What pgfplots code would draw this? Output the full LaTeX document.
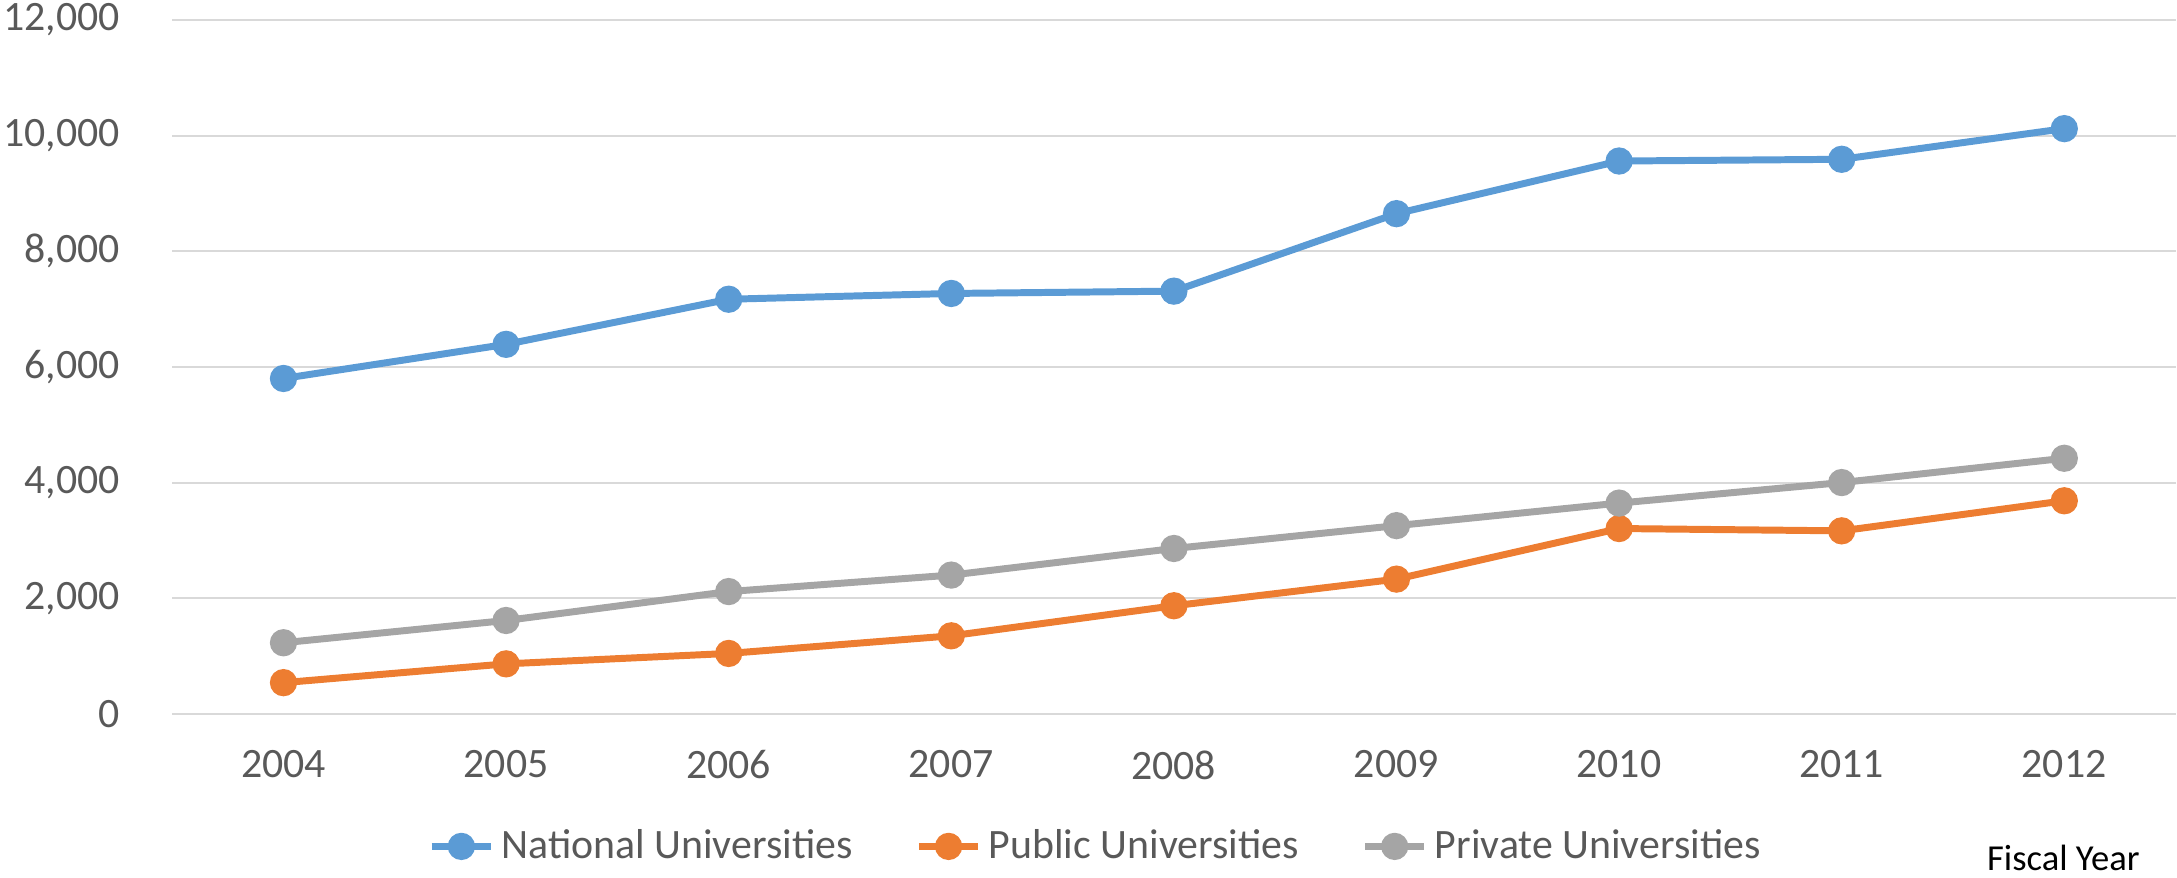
\documentclass[border=0pt]{standalone}
\usepackage{fontspec}
\setmainfont{Carlito}
\usepackage{pgfplots}
\pgfplotsset{compat=1.18}

\definecolor{natblue}{HTML}{5B9BD5}
\definecolor{puborange}{HTML}{ED7D31}
\definecolor{privgray}{HTML}{A5A5A5}
\definecolor{ticktext}{HTML}{595959}
\definecolor{gridc}{HTML}{D9D9D9}

\begin{document}
\begin{tikzpicture}
\begin{axis}[
  width=574.8pt, height=199.1pt,
  scale only axis,
  clip=false,
  xmin=2003.5, xmax=2012.5,
  ymin=0, ymax=12000,
  xtick={2004,...,2012},
  ytick={0,2000,...,12000},
  scaled ticks=false,
  axis line style={draw=none},
  major tick length=0pt,
  ymajorgrids,
  grid style={gridc, line width=0.6pt},
  tick label style={font=\fontsize{12}{14}\selectfont, text=ticktext},
  /pgf/number format/assume math mode=true,
  xticklabel style={/pgf/number format/1000 sep={}, yshift=-7pt},
  yticklabel style={/pgf/number format/fixed, /pgf/number format/1000 sep={,},
    inner sep=1pt, xshift=-13.8pt},
  legend columns=3,
  legend style={at={(0.462,-0.191)}, anchor=center, draw=none, fill=none,
    font=\fontsize{12}{14}\selectfont, text=ticktext,
    /tikz/every even column/.append style={column sep=16pt}},
  every axis plot/.append style={line width=2pt, mark=*, mark size=2.9pt},
]
\addplot[natblue, mark options={fill=natblue, draw=natblue}] coordinates {
  (2004,5800) (2005,6390) (2006,7170) (2007,7270) (2008,7310)
  (2009,8650) (2010,9560) (2011,9590) (2012,10120)};
\addlegendentry{National Universities}
\addplot[puborange, mark options={fill=puborange, draw=puborange}] coordinates {
  (2004,540) (2005,865) (2006,1045) (2007,1350) (2008,1870)
  (2009,2330) (2010,3205) (2011,3165) (2012,3685)};
\addlegendentry{Public Universities}
\addplot[privgray, mark options={fill=privgray, draw=privgray}] coordinates {
  (2004,1230) (2005,1615) (2006,2115) (2007,2400) (2008,2860)
  (2009,3255) (2010,3645) (2011,4000) (2012,4420)};
\addlegendentry{Private Universities}
\node[font=\fontsize{10.5}{12}\selectfont, text=black, inner sep=0pt, anchor=south]
  at (rel axis cs:0.944,-0.227) {Fiscal Year};
\path (rel axis cs:-0.0849,-0.227) rectangle (rel axis cs:1.0007,1.0287);
\end{axis}
\end{tikzpicture}
\end{document}
